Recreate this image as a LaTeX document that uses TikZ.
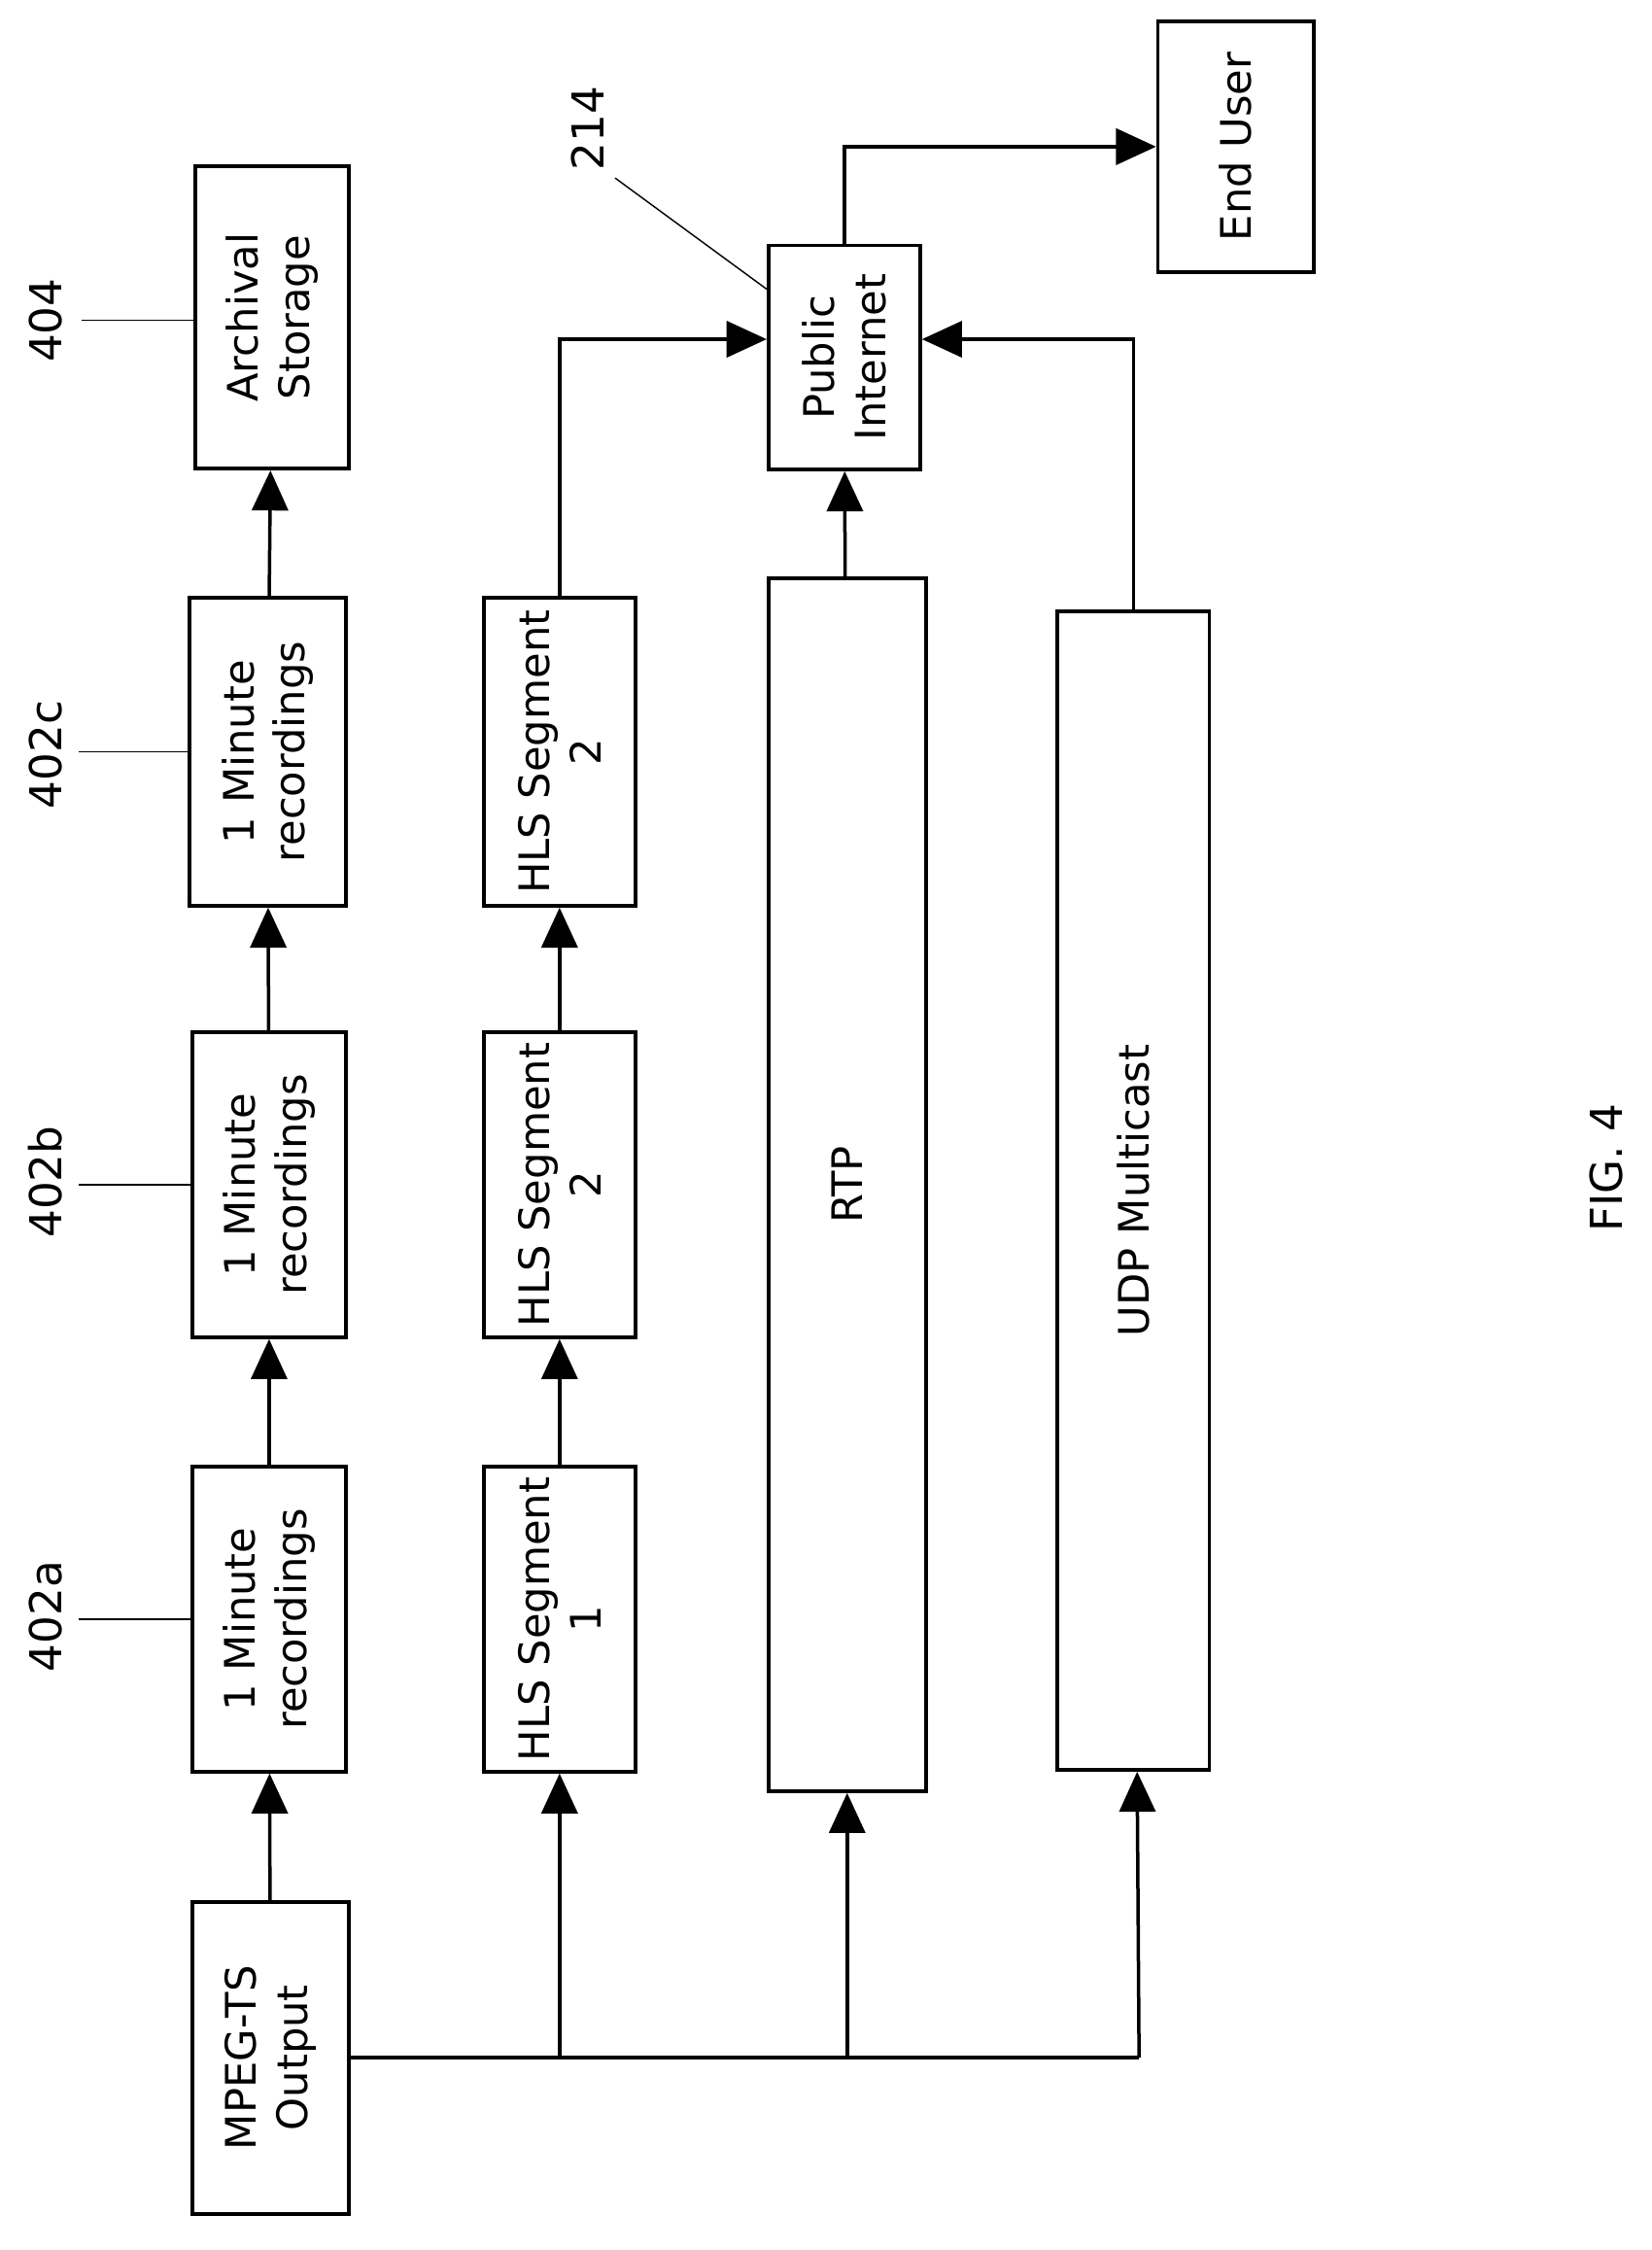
\documentclass[tikz,border=0pt]{standalone}
\usepackage{fontspec}
\setmainfont{DejaVu Sans}
\usetikzlibrary{arrows.meta, calc}
\newcommand{\blk}[6]{\node[box, minimum width={#4*1.417pt}, minimum height={#5*1.417pt}] (#1) at (#2,#3) {#6};}

\begin{document}
\begin{tikzpicture}[x=0.05cm, y=-0.05cm, line width=3.4pt,
    box/.style={draw, rotate=90, align=center, inner sep=0pt, font=\fontsize{42}{51}\selectfont, line width=3.6pt},
    arr/.style={-{Triangle[length=40pt, width=36pt]}},
    lbl/.style={rotate=90, font=\fontsize{44}{53}\selectfont}]
    \useasboundingbox (0,0) rectangle (1160,1580);

    % left column
    \blk{mpeg}{190}{1445}{220}{110}{MPEG-TS\\Output}
    \blk{reca}{189}{1137}{215}{108}{1 Minute\\recordings}
    \blk{recb}{189}{832}{215}{108}{1 Minute\\recordings}
    \blk{recc}{188}{528}{217}{110}{1 Minute\\recordings}
    \blk{arch}{191}{223}{213}{108}{Archival\\Storage}

    % second column
    \blk{hlsa}{393}{1137}{215}{107}{HLS Segment\\1}
    \blk{hlsb}{393}{832}{215}{107}{HLS Segment\\2}
    \blk{hlsc}{393}{528}{217}{107}{HLS Segment\\2}

    % long blocks
    \blk{rtp}{595}{832}{855}{111}{RTP}
    \blk{udp}{796}{836}{817}{107}{UDP Multicast}
    \blk{inet}{593}{251}{158}{107}{Public\\Internet}
    \blk{user}{868}{103}{177}{110}{End User}

    \coordinate (split) at (800,1445);

    % chains
    \draw[arr] (mpeg) -- (reca);
    \draw[arr] (reca) -- (recb);
    \draw[arr] (recb) -- (recc);
    \draw[arr] (recc) -- (arch);
    \draw[arr] (hlsa) -- (hlsb);
    \draw[arr] (hlsb) -- (hlsc);

    % distribution
    \draw (mpeg.south) -- (split);
    \draw[arr] (mpeg.south -| hlsa) -- (hlsa);
    \draw[arr] (mpeg.south -| rtp) -- (rtp);
    \draw[arr] (split) -- (udp);
    \draw[arr] (hlsc.east) |- ($(inet.north)!0.16!(inet.north east)$);
    \draw[arr] (rtp) -- (inet);
    \draw[arr] (udp.east) |- ($(inet.south)!0.16!(inet.south east)$);
    \draw[arr] (inet.east) |- (user.north);

    % reference labels
    \node[lbl] (n404) at (32,225) {404};
    \node[lbl] (n402c) at (32,530) {402c};
    \node[lbl] (n402b) at (32,830) {402b};
    \node[lbl] (n402a) at (32,1135) {402a};
    \node[lbl] (n214) at (413,90) {214};
    \node[lbl] (fig) at (1128,820) {FIG. 4};
    \draw[line width=1.4pt] (57,225) -- (57,225 -| arch.north);
    \draw[line width=1.4pt] (55,528) -- (recc.north);
    \draw[line width=1.4pt] (55,832) -- (recb.north);
    \draw[line width=1.4pt] (55,1137) -- (reca.north);
    \draw[line width=1.4pt] (432,125) -- ($(inet.north east)!0.2!(inet.north west)$);
\end{tikzpicture}
\end{document}
